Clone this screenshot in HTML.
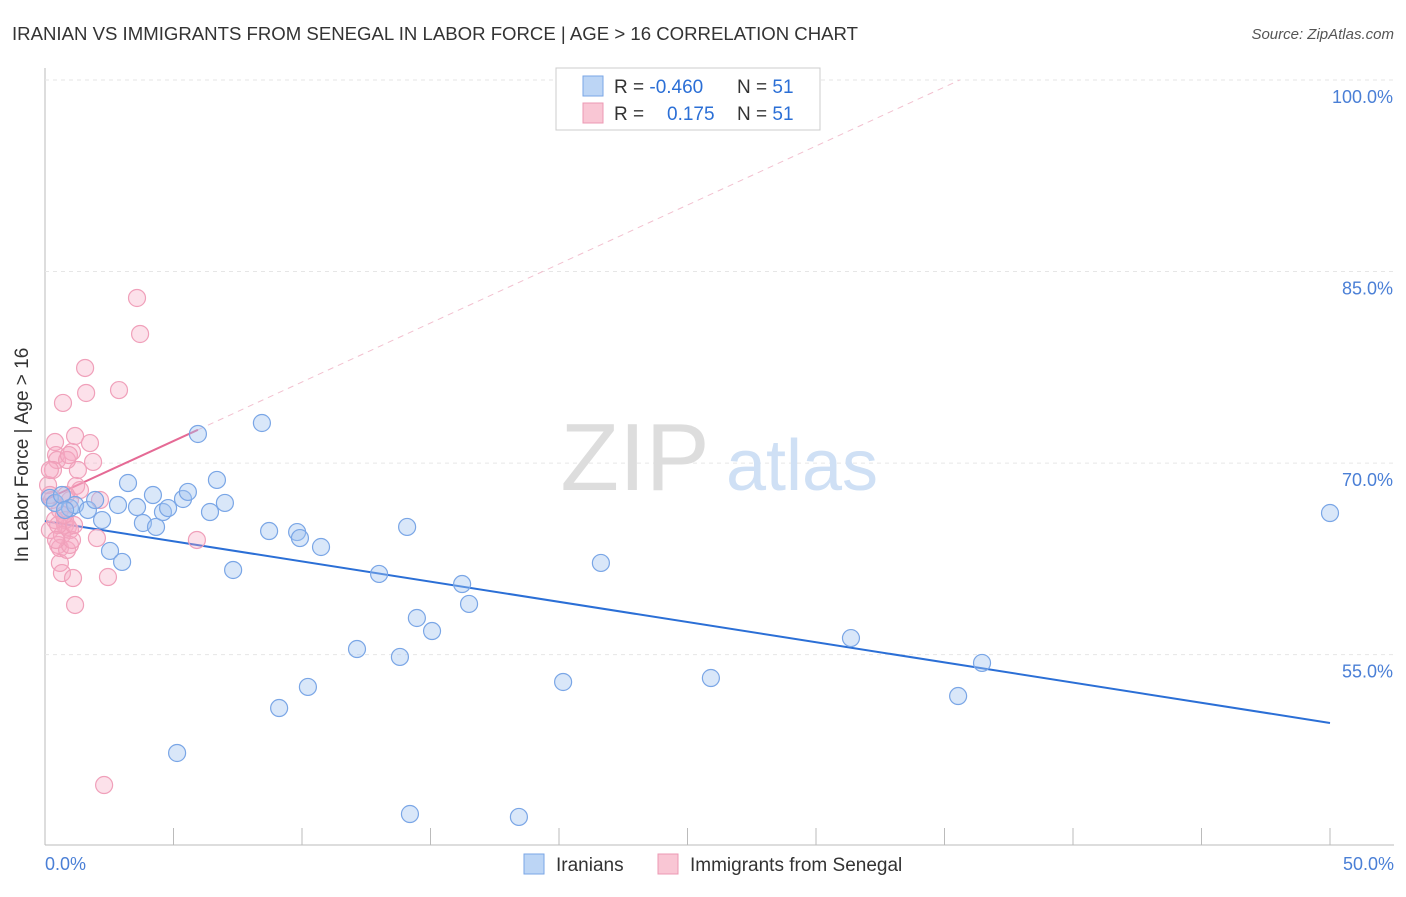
<!DOCTYPE html>
<html><head><meta charset="utf-8"><style>
body{margin:0;background:#fff;font-family:"Liberation Sans",sans-serif;}
svg text{font-family:"Liberation Sans",sans-serif;}
</style></head><body>
<svg id="chart" width="1406" height="892" xmlns="http://www.w3.org/2000/svg">
<text x="12" y="40" font-size="18.6" fill="#333">IRANIAN VS IMMIGRANTS FROM SENEGAL IN LABOR FORCE | AGE &gt; 16 CORRELATION CHART</text>
<text x="1394" y="39" font-size="15" fill="#555" font-style="italic" text-anchor="end">Source: ZipAtlas.com</text>
<g id="grid"></g>
<g>
<text x="635" y="490" font-size="96" fill="#ddd" font-family="Liberation Serif" text-anchor="middle">ZIP</text>
<text x="802" y="490" font-size="72" fill="#cfe0f5" text-anchor="middle">atlas</text>
</g>
<g id="lines"></g>
<g id="pts"></g>
<text x="28" y="455" font-size="19" fill="#333" transform="rotate(-90 28 455)" text-anchor="middle">In Labor Force | Age &gt; 16</text>
<text x="45" y="870" font-size="18" fill="#4a7fd6">0.0%</text>
<text x="1394" y="870" font-size="18" fill="#4a7fd6" text-anchor="end">50.0%</text>
<g>
<rect x="556" y="68" width="264" height="62" fill="#fff" stroke="#ccc"/>
<rect x="583" y="76" width="20" height="20" fill="#bcd5f5" stroke="#7aa6e6"/>
<rect x="583" y="103" width="20" height="20" fill="#f9c6d4" stroke="#ec98b3"/>
<text x="614" y="93" font-size="19" fill="#333">R = <tspan fill="#2b6fd6">-0.460</tspan></text>
<text x="737" y="93" font-size="19" fill="#333">N = <tspan fill="#2b6fd6">51</tspan></text>
<text x="614" y="120" font-size="19" fill="#333">R = <tspan fill="#2b6fd6" x="667">0.175</tspan></text>
<text x="737" y="120" font-size="19" fill="#333">N = <tspan fill="#2b6fd6">51</tspan></text>
</g>
<g>
<rect x="524" y="854" width="20" height="20" fill="#bcd5f5" stroke="#7aa6e6"/>
<text x="556" y="871" font-size="19" fill="#333">Iranians</text>
<rect x="658" y="854" width="20" height="20" fill="#f9c6d4" stroke="#ec98b3"/>
<text x="690" y="871" font-size="19" fill="#333">Immigrants from Senegal</text>
</g>
</svg>
<script>
const yTicks=[55,70,85,100];
const xTicks=[0,5,10,15,20,25,30,35,40,45,50];
const blueX=[0.19,0.39,0.66,0.97,1.17,1.67,1.95,2.22,2.53,2.84,3.0,3.23,3.58,3.81,4.2,4.32,4.59,4.79,5.14,5.37,5.56,5.95,6.42,6.69,7.0,7.32,8.44,8.72,9.11,9.81,9.92,10.23,10.74,12.14,13.0,13.81,14.09,14.47,15.06,16.23,16.5,14.2,18.44,20.16,21.63,25.91,31.36,35.53,36.46,50.0,0.78];
const blueY=[67.27,66.88,67.5,66.48,66.72,66.33,67.11,65.54,63.12,66.72,62.26,68.44,66.56,65.31,67.5,65.0,66.17,66.48,47.3,67.19,67.74,72.28,66.17,68.68,66.88,61.63,73.14,64.68,50.82,64.6,64.13,52.47,63.43,55.44,61.32,54.82,65.0,57.87,56.85,60.53,58.97,42.52,42.29,52.86,62.18,53.17,56.3,51.76,54.35,66.09,66.33];
const pinkX=[0.12,0.19,0.19,0.27,0.39,0.43,0.47,0.51,0.58,0.58,0.66,0.7,0.78,0.86,0.89,0.97,0.97,1.05,1.09,1.17,1.17,1.21,1.28,1.56,1.6,1.75,1.87,2.02,2.14,2.3,2.45,2.88,3.58,3.7,5.91,0.58,0.78,0.86,0.39,0.31,0.97,0.66,1.05,1.36,0.51,0.19,0.82,1.13,0.43,0.74,0.93];
const pinkY=[68.28,67.5,64.76,67.11,71.65,70.63,70.24,63.59,63.35,62.18,61.39,74.71,65.15,63.2,65.0,64.76,63.59,70.87,61.0,58.89,72.12,68.21,69.46,77.45,75.49,71.57,70.09,64.13,67.11,44.79,61.08,75.72,82.93,80.11,63.98,66.33,65.54,70.24,65.54,69.46,67.11,64.37,63.98,67.89,65.15,69.46,67.5,65.15,63.98,65.94,70.63];
const blueTrend=[65.46,49.65];
const pinkTrend=[67.11,0.924];
const X=v=>45+v*25.7, Y=v=>80+(100-v)*12.77;
const NS='http://www.w3.org/2000/svg';
function mk(t,a,p){const e=document.createElementNS(NS,t);for(const k in a)e.setAttribute(k,a[k]);p.appendChild(e);return e;}
const grid=document.getElementById('grid');
mk('line',{x1:45,y1:68,x2:45,y2:845,stroke:'#bbb'},grid);
mk('line',{x1:45,y1:845,x2:1394,y2:845,stroke:'#bbb'},grid);
yTicks.forEach(t=>{
 const l=mk('line',{x1:45,y1:Y(t),x2:1394,y2:Y(t),stroke:'#e6e6e6','stroke-dasharray':'4,4'},grid);
 
 
 const tx=mk('text',{x:1393,y:Y(t)+23,'font-size':18,fill:'#4a7fd6','text-anchor':'end'},grid);
 tx.textContent=t.toFixed(1)+'%';
 
 
});
xTicks.forEach(t=>{
 const l=mk('line',{x1:X(t),y1:828,x2:X(t),y2:845,stroke:'#bbb'},grid);
 
 
});
const lines=document.getElementById('lines');
const bl=mk('line',{x1:X(0),y1:Y(blueTrend[0]),x2:X(50),y2:Y(blueTrend[1]),stroke:'#2b6fd6','stroke-width':2},lines);


const pEnd=(100-pinkTrend[0])/pinkTrend[1];
const pd=mk('line',{x1:X(5.95),y1:Y(pinkTrend[0]+pinkTrend[1]*5.95),x2:X(pEnd),y2:Y(100),stroke:'#f2c0cf','stroke-width':1,'stroke-dasharray':'6,5'},lines);


const ps=mk('line',{x1:X(0),y1:Y(pinkTrend[0]),x2:X(5.95),y2:Y(pinkTrend[0]+pinkTrend[1]*5.95),stroke:'#e56a95','stroke-width':2},lines);


const pts=document.getElementById('pts');
pinkX.forEach((x,i)=>{
 const c=mk('circle',{cx:X(x),cy:Y(pinkY[i]),r:8.5,fill:'rgba(246,170,195,0.35)',stroke:'#f0a0ba','stroke-width':1.2},pts);
 
 
});
blueX.forEach((x,i)=>{
 const c=mk('circle',{cx:X(x),cy:Y(blueY[i]),r:8.5,fill:'rgba(160,195,240,0.4)',stroke:'#7aa6e6','stroke-width':1.2},pts);
 
 
});
</script>
</body></html>
